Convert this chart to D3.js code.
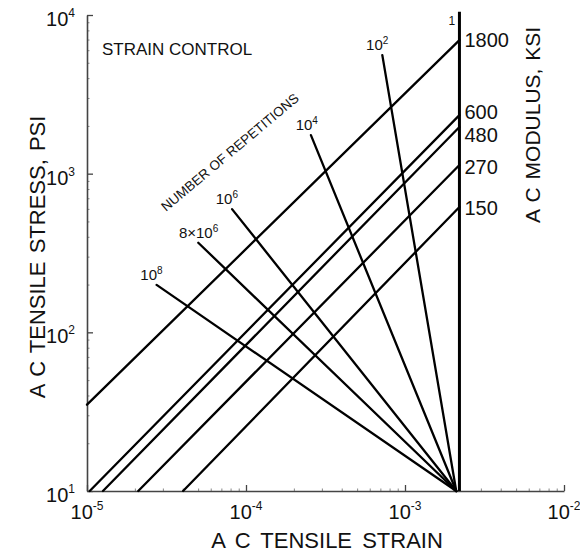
<!DOCTYPE html>
<html>
<head>
<meta charset="utf-8">
<script src="https://cdn.jsdelivr.net/npm/d3@7"></script>
<style>
  html, body { margin: 0; padding: 0; background: #fff; }
  text { font-family: "Liberation Sans", Arial, sans-serif; fill: #111; }
</style>
</head>
<body>
<script>
// ---------------- data ----------------
const strainTicks = [1e-5, 1e-4, 1e-3, 1e-2];
const strainTickExp = ["-5", "-4", "-3", "-2"];
const stressTicks = [10, 100, 1000, 10000];
const stressTickExp = ["1", "2", "3", "4"];

// modulus (ksi) lines: start point and stress where each meets the N = 1 line
const modulusLabels = ["1800", "600", "480", "270", "150"];
const modulusStartStrain = [1.0e-5, 1.04e-5, 1.26e-5, 2.10e-5, 4.02e-5];
const modulusStartStress = [35, 10, 10, 10, 10];
const modulusEndStress = [6950, 2340, 1967, 1133, 617];

// N = 1 line (vertical)
const n1Strain = 2.2e-3;
const n1StressRange = [10, 10500];

// number of repetitions lines (upper end), all meet at the convergence point
const repBase = ["10", "10", "10", "8×10", "10"];
const repExp = ["2", "4", "6", "6", "8"];
const repTopStrain = [7.2e-4, 2.56e-4, 8.17e-5, 5.01e-5, 2.74e-5];
const repTopStress = [5590, 1750, 598, 367, 199];
const convStrain = 2.1e-3;
const convStress = 10;

// ---------------- layout ----------------
const W = 580, H = 553;
const x = d3.scaleLog().domain([1e-5, 1e-2]).range([87, 564]);
const y = d3.scaleLog().domain([10, 1e4]).range([491, 15]);

const svg = d3.select("body").append("svg").attr("width", W).attr("height", H);

function minors(dom) {
  const out = [];
  for (let e = Math.log10(dom[0]); e < Math.log10(dom[1]); e++)
    for (let m = 2; m <= 9; m++) out.push(m * Math.pow(10, e));
  return out;
}
const axisStroke = "#444";

const gl = svg.append("g").attr("transform", `translate(${x.range()[0]},0)`);
gl.call(d3.axisLeft(y).tickValues(minors(y.domain())).tickSize(-2.5).tickSizeOuter(0).tickFormat(""));
gl.selectAll("line").attr("stroke", "#888").attr("stroke-width", 1);
gl.select(".domain").remove();
const gl2 = svg.append("g").attr("transform", `translate(${x.range()[0]},0)`);
gl2.call(d3.axisLeft(y).tickValues(stressTicks).tickSize(-6).tickSizeOuter(0).tickFormat(""));
gl2.selectAll("line").attr("stroke", axisStroke).attr("stroke-width", 1.3);
gl2.select(".domain").attr("stroke", axisStroke).attr("stroke-width", 1.6);

const gb = svg.append("g").attr("transform", `translate(0,${y.range()[0]})`);
gb.call(d3.axisBottom(x).tickValues(minors(x.domain())).tickSize(-2.5).tickSizeOuter(0).tickFormat(""));
gb.selectAll("line").attr("stroke", "#888").attr("stroke-width", 1);
gb.select(".domain").remove();
const gb2 = svg.append("g").attr("transform", `translate(0,${y.range()[0]})`);
gb2.call(d3.axisBottom(x).tickValues(strainTicks).tickSize(-6).tickSizeOuter(0).tickFormat(""));
gb2.selectAll("line").attr("stroke", axisStroke).attr("stroke-width", 1.3);
gb2.select(".domain").attr("stroke", axisStroke).attr("stroke-width", 1.6);

function supLabel(g, base, exp, bigSize, smallSize, supDy) {
  g.append("tspan").text(base).attr("font-size", bigSize);
  g.append("tspan").text(exp).attr("font-size", smallSize).attr("dy", supDy);
}
stressTicks.forEach((v, i) => {
  const t = svg.append("text")
    .attr("x", x.range()[0] - 12)
    .attr("y", y(v) + 11)
    .attr("text-anchor", "end");
  supLabel(t, "10", stressTickExp[i], 20, 12, -9);
});
strainTicks.forEach((v, i) => {
  const t = svg.append("text")
    .attr("x", x(v))
    .attr("y", y.range()[0] + 28)
    .attr("text-anchor", "middle");
  supLabel(t, "10", strainTickExp[i], 20, 12, -9);
});

const lineStyle = sel => sel.attr("stroke", "#000").attr("stroke-width", 2.3).attr("fill", "none").attr("stroke-linecap", "round");
modulusLabels.forEach((lab, i) => {
  svg.append("line")
    .attr("x1", x(modulusStartStrain[i])).attr("y1", y(modulusStartStress[i]))
    .attr("x2", x(n1Strain)).attr("y2", y(modulusEndStress[i]))
    .call(lineStyle);
});
const modLabelNudge = [0, -3, 8, 2, 1];
modulusLabels.forEach((lab, i) => {
  svg.append("text")
    .attr("x", x(n1Strain) + 5)
    .attr("y", y(modulusEndStress[i]) + modLabelNudge[i])
    .attr("dy", "0.36em")
    .attr("font-size", 20)
    .text(lab);
});

repBase.forEach((b, i) => {
  svg.append("line")
    .attr("x1", x(repTopStrain[i])).attr("y1", y(repTopStress[i]))
    .attr("x2", x(convStrain)).attr("y2", y(convStress))
    .call(lineStyle);
});
const repLabelDx = [6, 7, 6, 20, 6];
repBase.forEach((b, i) => {
  const t = svg.append("text")
    .attr("x", x(repTopStrain[i]) + repLabelDx[i])
    .attr("y", y(repTopStress[i]) - 5)
    .attr("text-anchor", "end");
  supLabel(t, b, repExp[i], 15, 10, -6);
});

svg.append("line")
  .attr("x1", x(n1Strain)).attr("y1", y(n1StressRange[0]))
  .attr("x2", x(n1Strain)).attr("y2", y(n1StressRange[1]))
  .attr("stroke", "#000").attr("stroke-width", 3);
svg.append("text").attr("x", x(n1Strain) - 11).attr("y", 25).attr("font-size", 12).text("1");

svg.append("text").attr("x", 102).attr("y", 55).attr("font-size", 17).text("STRAIN CONTROL");
svg.append("text").attr("transform", "translate(166,212) rotate(-40)")
  .attr("font-size", 13.5).text("NUMBER OF REPETITIONS");

svg.append("text").attr("x", 327).attr("y", 548).attr("text-anchor", "middle")
  .attr("font-size", 22).attr("word-spacing", 4).text("A C TENSILE STRAIN");
svg.append("text").attr("transform", "translate(37,257) rotate(-90)")
  .attr("text-anchor", "middle").attr("dy", "0.36em").attr("word-spacing", 2)
  .attr("font-size", 22).text("A C TENSILE STRESS, PSI");
svg.append("text").attr("transform", "translate(532,125) rotate(-90)")
  .attr("text-anchor", "middle").attr("dy", "0.36em").attr("word-spacing", 2)
  .attr("font-size", 21).text("A C MODULUS, KSI");
</script>
</body>
</html>
